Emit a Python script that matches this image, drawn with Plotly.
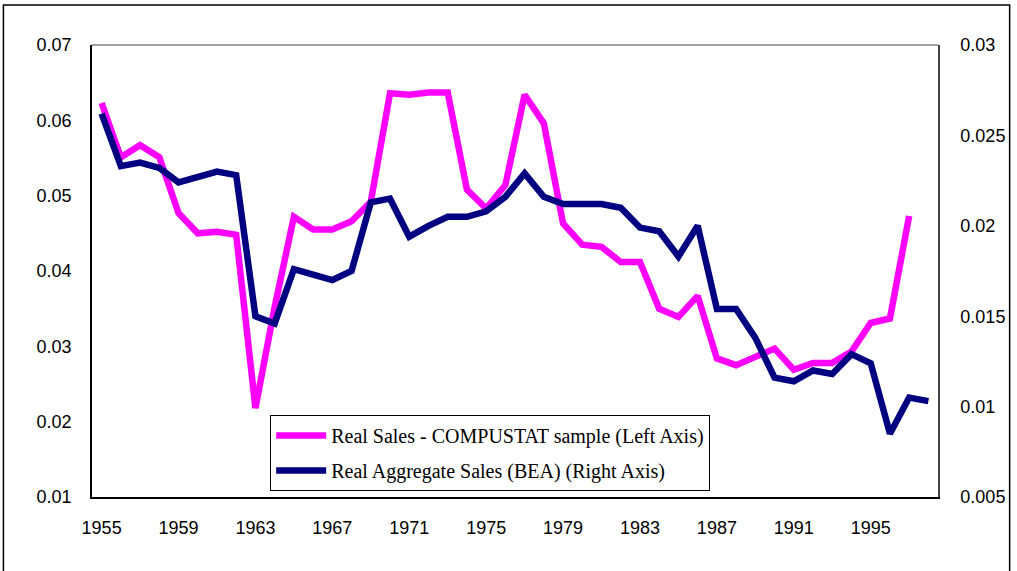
import plotly.graph_objects as go

years = list(range(1955, 1999))
compustat_years = list(range(1955, 1998))
compustat_sales = [0.0623, 0.0551, 0.0567, 0.0551, 0.0477, 0.0450, 0.0452, 0.0448, 0.0218, 0.0352,
                   0.0472, 0.0455, 0.0455, 0.0466, 0.0492, 0.0636, 0.0634, 0.0637, 0.0637, 0.0508,
                   0.0483, 0.0514, 0.0634, 0.0596, 0.0463, 0.0435, 0.0432, 0.0412, 0.0412, 0.0350,
                   0.0339, 0.0367, 0.0284, 0.0275, 0.0286, 0.0297, 0.0269, 0.0278, 0.0278, 0.0293,
                   0.0331, 0.0337, 0.0473]
bea_sales = [0.0262, 0.0233, 0.0235, 0.0232, 0.0224, 0.0227, 0.0230, 0.0228, 0.0150, 0.0146,
             0.0176, 0.0173, 0.0170, 0.0175, 0.0213, 0.0215, 0.0194, 0.0200, 0.0205, 0.0205,
             0.0208, 0.0216, 0.0229, 0.0216, 0.0212, 0.0212, 0.0212, 0.0210, 0.0199, 0.0197,
             0.0183, 0.0200, 0.0154, 0.0154, 0.0138, 0.0116, 0.0114, 0.0120, 0.0118, 0.0129,
             0.0124, 0.0085, 0.0105, 0.0103]
x_ticks = list(range(1955, 1999, 4))
left_ticks = [0.01, 0.02, 0.03, 0.04, 0.05, 0.06, 0.07]
right_ticks = [0.005, 0.01, 0.015, 0.02, 0.025, 0.03]
right_labels = ["0.005", "0.01", "0.015", "0.02", "0.025", "0.03"]
names = ["Real Sales - COMPUSTAT sample (Left Axis)", "Real Aggregate Sales (BEA) (Right Axis)"]

fig = go.Figure()
fig.add_trace(go.Scatter(x=compustat_years, y=compustat_sales, mode="lines", name=names[0],
                         legendgroup="a",
                         line=dict(color="#FF00FF", width=6.5), yaxis="y"))
fig.add_trace(go.Scatter(x=years, y=bea_sales, mode="lines", name=names[1],
                         legendgroup="b",
                         line=dict(color="#000080", width=6.5), yaxis="y2"))

tickfont = dict(family="Liberation Sans, Arial, sans-serif", size=18, color="black")
fig.update_layout(
    width=1017, height=571,
    margin=dict(l=92, r=75, t=45, b=74),
    paper_bgcolor="white", plot_bgcolor="white",
    showlegend=True,
    legend=dict(x=0.2106, y=0.1814, xanchor="left", yanchor="top",
                bgcolor="white", bordercolor="black", borderwidth=1,
                font=dict(family="Liberation Serif, Times New Roman, serif", size=20, color="black"),
                itemwidth=50, tracegroupgap=6),
    xaxis=dict(range=[1954.5, 1998.5], tickvals=x_ticks, ticktext=[str(t) for t in x_ticks],
               showgrid=False, zeroline=False, showline=True, linecolor="black", linewidth=1.5,
               ticks="", tickfont=tickfont, ticklabelstandoff=14),
    yaxis=dict(range=[0.01, 0.07], tickvals=left_ticks, tickformat=".2f",
               showgrid=False, zeroline=False, showline=True, linecolor="black", linewidth=1.5,
               ticks="", tickfont=tickfont, ticklabelstandoff=15),
    yaxis2=dict(range=[0.005, 0.03], tickvals=right_ticks, ticktext=right_labels,
                overlaying="y", side="right",
                showgrid=False, zeroline=False, showline=True, linecolor="#404040", linewidth=1.5,
                ticks="", tickfont=tickfont, ticklabelstandoff=17),
    shapes=[
        dict(type="line", xref="paper", yref="paper", x0=0, x1=1, y0=1, y1=1,
             line=dict(color="#808080", width=1.5)),
        dict(type="rect", xref="paper", yref="paper", x0=-0.1047, x1=1.0847, y0=-0.18, y1=1.0885,
             line=dict(color="black", width=1.5), layer="below"),
    ],
)

fig.write_html("out.html", config={"displayModeBar": False},
               post_script="document.body.style.margin='0px';")
